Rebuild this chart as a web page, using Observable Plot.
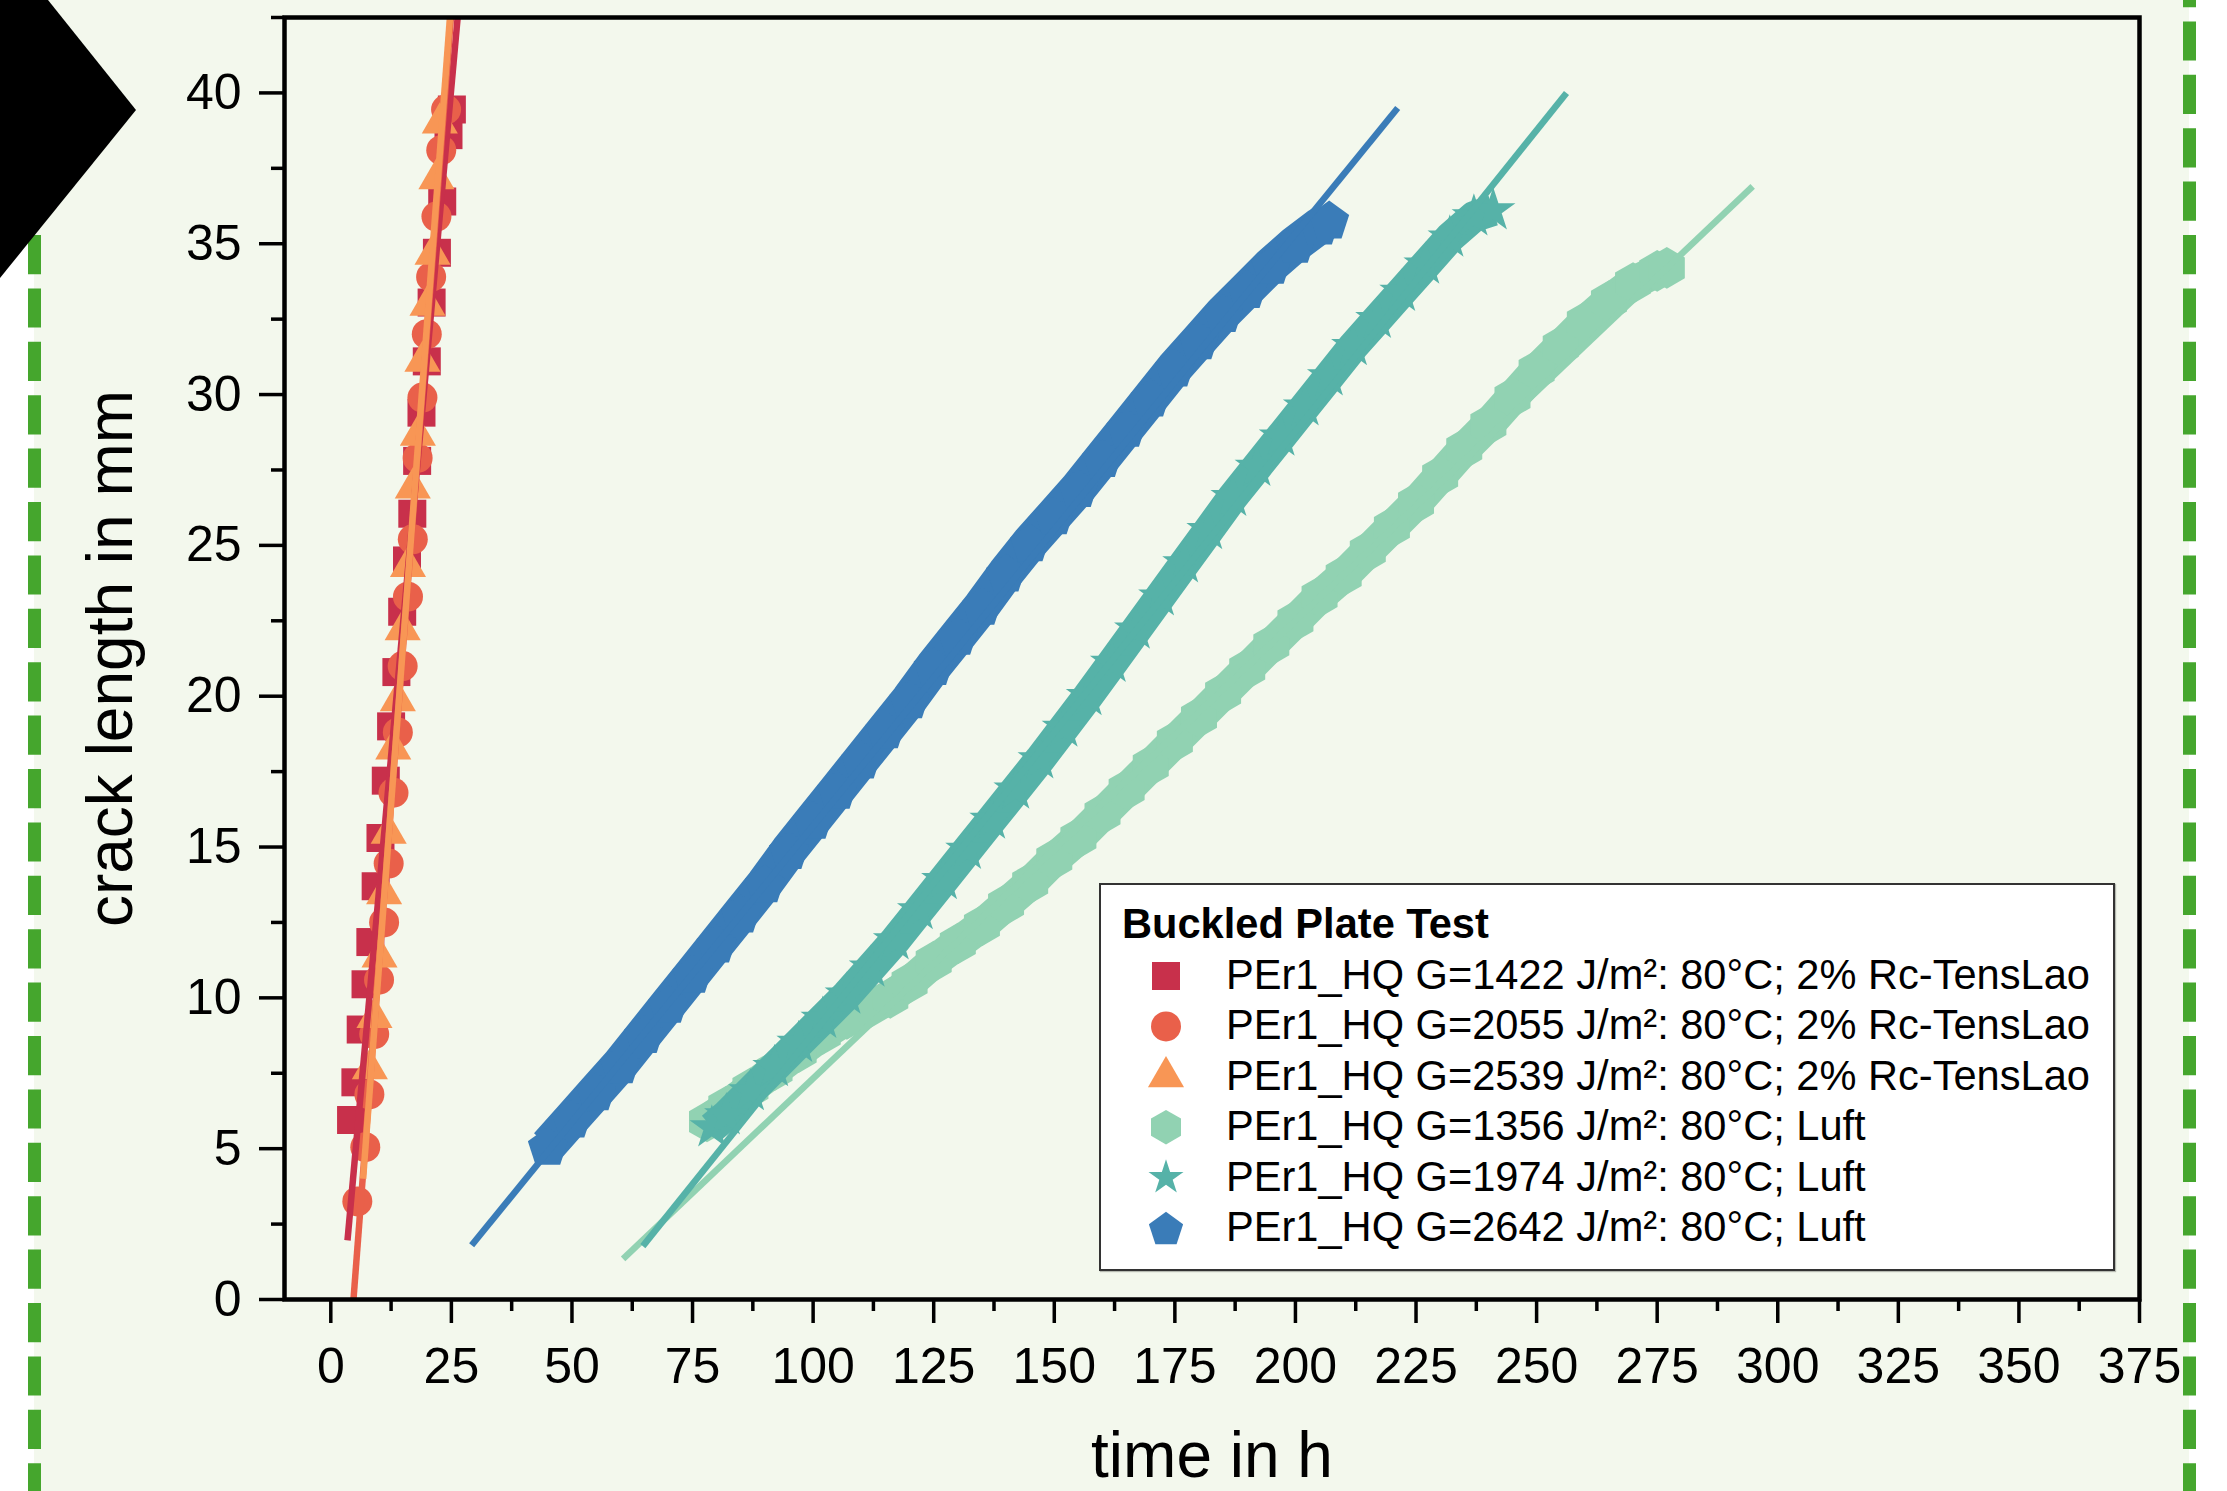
<!DOCTYPE html>
<html>
<head>
<meta charset="utf-8">
<script src="https://cdn.jsdelivr.net/npm/d3@7"></script>
<script src="https://cdn.jsdelivr.net/npm/@observablehq/plot@0.6"></script>
<style>
html, body { margin: 0; padding: 0; background: #fff; }
#page { position: relative; width: 2227px; height: 1491px; overflow: hidden; background: #fff; font-family: "Liberation Sans", Arial, sans-serif; }
#bg { position: absolute; left: 34px; top: -60px; width: 2155px; height: 1620px; background: #f3f8ed; }
#deco, #chart, #chev { position: absolute; left: 0; top: 0; }
#legend { position: absolute; left: 1099px; top: 883px; width: 1016px; height: 388px; box-sizing: border-box; border: 2px solid #333; background: #fff; box-shadow: 1px 1px 1px rgba(0,0,0,0.25); }
#legend svg { position: absolute; left: 0; top: 0; }
</style>
</head>
<body>
<div id="page">
  <div id="bg"></div>
  <svg id="deco" width="2227" height="1491">
    <line x1="34.5" y1="0" x2="34.5" y2="1491" stroke="#45a62d" stroke-width="13" stroke-dasharray="39.2 14.2" stroke-dashoffset="32"/>
    <line x1="2189.5" y1="0" x2="2189.5" y2="1491" stroke="#45a62d" stroke-width="13" stroke-dasharray="39.2 14.2" stroke-dashoffset="32"/>
  </svg>
  <div id="chart"></div>
  <div id="legend"></div>
  <svg id="chev" width="200" height="300"><polygon points="0,0 48,0 136,110 0,278" fill="#000"/></svg>
</div>
<script>
// ---------- data ----------
const seriesNames = [
  "PEr1_HQ G=1422 J/m²: 80°C; 2% Rc-TensLao",
  "PEr1_HQ G=2055 J/m²: 80°C; 2% Rc-TensLao",
  "PEr1_HQ G=2539 J/m²: 80°C; 2% Rc-TensLao",
  "PEr1_HQ G=1356 J/m²: 80°C; Luft",
  "PEr1_HQ G=1974 J/m²: 80°C; Luft",
  "PEr1_HQ G=2642 J/m²: 80°C; Luft"
];
const seriesColors = ["#c8304b", "#e9604a", "#f89655", "#91d2b2", "#56b2a8", "#3a7cb8"];
const legendTitle = "Buckled Plate Test";
const xLabel = "time in h";
const yLabel = "crack length in mm";
const xTicks = [0, 25, 50, 75, 100, 125, 150, 175, 200, 225, 250, 275, 300, 325, 350, 375];
const xMinorTicks = [12.5, 37.5, 62.5, 87.5, 112.5, 137.5, 162.5, 187.5, 212.5, 237.5, 262.5, 287.5, 312.5, 337.5, 362.5];
const yTicks = [0, 5, 10, 15, 20, 25, 30, 35, 40];
const yMinorTicks = [2.5, 7.5, 12.5, 17.5, 22.5, 27.5, 32.5, 37.5, 42.5];

// G=1422 (squares)
const t1422 = [4.2, 5.1, 6.2, 7.2, 8.2, 9.3, 10.3, 11.4, 12.5, 13.6, 14.8, 15.8, 16.9, 17.9, 18.8, 19.9, 20.9, 22.0, 23.1, 24.4, 25.1];
const a1422 = [5.95, 7.2, 8.95, 10.45, 11.85, 13.7, 15.3, 17.2, 19.0, 20.8, 22.8, 24.5, 26.05, 27.8, 29.4, 31.1, 33.05, 34.7, 36.4, 38.6, 39.45];
// G=2055 (circles)
const t2055 = [5.5, 7.15, 8.0, 9.0, 10.0, 11.05, 12.0, 13.0, 13.9, 14.9, 16.0, 17.0, 18.0, 19.0, 19.9, 20.8, 21.9, 22.9, 23.9];
const a2055 = [3.25, 5.05, 6.8, 8.8, 10.6, 12.5, 14.45, 16.8, 18.8, 21.0, 23.3, 25.2, 27.9, 29.9, 32.0, 33.9, 35.9, 38.1, 39.45];
// G=2539 (triangles)
const t2539 = [8.1, 9.05, 10.1, 11.05, 12.0, 12.95, 13.9, 14.9, 16.0, 17.0, 18.05, 19.0, 20.05, 21.1, 21.9, 22.6];
const a2539 = [7.65, 9.35, 11.35, 13.45, 15.45, 18.25, 19.85, 22.2, 24.3, 26.9, 28.65, 31.1, 32.96, 34.65, 37.15, 39.0];
// G=1356 (hexagons)
const t1356 = [78, 82, 87, 92, 97, 102, 107, 112, 116, 120, 125, 130, 135, 140, 145, 150, 155, 160, 165, 170, 175, 180, 185, 190, 195, 200, 205, 210, 215, 220, 225, 230, 235, 240, 245, 250, 255, 260, 265, 270, 275, 277];
const a1356 = [5.9, 6.4, 7.0, 7.6, 8.2, 8.8, 9.3, 9.7, 10.0, 10.5, 11.2, 11.8, 12.4, 13.1, 13.8, 14.6, 15.3, 16.1, 16.9, 17.7, 18.5, 19.3, 20.1, 20.9, 21.7, 22.5, 23.3, 24.0, 24.8, 25.6, 26.4, 27.3, 28.2, 29.0, 29.9, 30.8, 31.6, 32.4, 33.1, 33.7, 34.1, 34.2];
// G=1974 (stars)
const t1974 = [79, 82, 87, 92, 97, 102, 107, 112, 117, 122, 127, 132, 137, 142, 147, 152, 157, 162, 167, 172, 177, 182, 187, 192, 197, 202, 207, 212, 217, 222, 227, 232, 237, 241];
const a1974 = [5.7, 6.1, 6.9, 7.7, 8.5, 9.3, 10.1, 11.0, 11.9, 12.9, 13.9, 14.9, 15.9, 16.9, 17.9, 18.95, 20.0, 21.1, 22.2, 23.3, 24.4, 25.5, 26.6, 27.6, 28.6, 29.6, 30.6, 31.6, 32.5, 33.4, 34.3, 35.2, 35.9, 36.1];
// G=2642 (pentagons)
const t2642 = [45, 50, 55, 60, 65, 70, 75, 80, 85, 90, 95, 100, 105, 110, 115, 120, 125, 130, 135, 140, 145, 150, 155, 160, 165, 170, 175, 180, 185, 190, 195, 200, 205, 207];
const a2642 = [5.1, 6.0, 6.9, 7.8, 8.8, 9.8, 10.8, 11.8, 12.8, 13.8, 14.9, 15.9, 16.9, 17.9, 18.9, 19.9, 21.0, 22.0, 23.0, 24.1, 25.1, 26.0, 26.9, 27.9, 28.9, 29.9, 30.9, 31.8, 32.7, 33.5, 34.3, 35.0, 35.6, 35.8];

// linear fit segments (start, end)
const fitT1422 = [3.46, 26.3],  fitA1422 = [1.96, 42.5];
const fitT2055 = [4.7, 24.9],   fitA2055 = [0.0, 42.5];
const fitT2539 = [6.7, 24.7],   fitA2539 = [4.0, 42.5];
const fitT1356 = [60.6, 294.8], fitA1356 = [1.35, 36.9];
const fitT1974 = [64.7, 256.2], fitA1974 = [1.77, 40.0];
const fitT2642 = [29.2, 221.2], fitA2642 = [1.8, 39.5];

// ---------- symbols ----------
const symbolHex = {draw(ctx, size) {
  const rx = Math.sqrt(size / Math.PI), ry = rx * 2 / Math.sqrt(3), hy = ry / 2;
  ctx.moveTo(0, ry); ctx.lineTo(rx, hy); ctx.lineTo(rx, -hy); ctx.lineTo(0, -ry); ctx.lineTo(-rx, -hy); ctx.lineTo(-rx, hy); ctx.closePath();
}};
const symbolPent = {draw(ctx, size) {
  const R = Math.sqrt(size / Math.PI);
  for (let k = 0; k < 5; k++) {
    const ang = -Math.PI / 2 + k * 2 * Math.PI / 5;
    const px = R * Math.cos(ang), py = R * Math.sin(ang) + R * 0.095;
    if (k) ctx.lineTo(px, py); else ctx.moveTo(px, py);
  }
  ctx.closePath();
}};
const symbols = [d3.symbolSquare, d3.symbolCircle, d3.symbolTriangle, symbolHex, d3.symbolStar, symbolPent];
const symbolR = [15.8, 15, 13.4, 15, 11, 18];
const dotR = [15.8, 15, 13.4, 18, 14, 21];
const bandWidth = [0, 0, 0, 33, 31, 37];

const series = [
  {t: t1422, a: a1422, ft: fitT1422, fa: fitA1422},
  {t: t2055, a: a2055, ft: fitT2055, fa: fitA2055},
  {t: t2539, a: a2539, ft: fitT2539, fa: fitA2539},
  {t: t1356, a: a1356, ft: fitT1356, fa: fitA1356},
  {t: t1974, a: a1974, ft: fitT1974, fa: fitA1974},
  {t: t2642, a: a2642, ft: fitT2642, fa: fitA2642}
];

const font = "Liberation Sans, Arial, sans-serif";
const marks = [];
series.forEach((s, i) => {
  const rows = s.t.map((t, k) => ({t, a: s.a[k]}));
  if (bandWidth[i]) marks.push(Plot.line(rows, {x: "t", y: "a", stroke: seriesColors[i], strokeWidth: bandWidth[i], strokeLinecap: "butt", clip: true}));
  marks.push(Plot.dot(rows, {x: "t", y: "a", symbol: symbols[i], r: dotR[i], fill: seriesColors[i], stroke: "none", clip: true}));
});
series.forEach((s, i) => {
  const rows = s.ft.map((t, k) => ({t, a: s.fa[k]}));
  marks.push(Plot.line(rows, {x: "t", y: "a", stroke: seriesColors[i], strokeWidth: 6.5, strokeLinecap: "butt", clip: true}));
});

const chart = Plot.plot({
  width: 2227, height: 1491,
  marginLeft: 284, marginRight: 88, marginTop: 17, marginBottom: 192,
  style: {background: "none", fontFamily: font, overflow: "visible"},
  x: {domain: [-9.6, 375]},
  y: {domain: [0, 42.5]},
  marks: [
    ...marks,
    Plot.frame({stroke: "#000", strokeWidth: 4.5}),
    Plot.axisX({ticks: xTicks, tickSize: 24, tickPadding: 24, fontSize: 50, strokeWidth: 3.5, stroke: "#000", fill: "#000", label: null, tickFormat: d => String(d)}),
    Plot.axisX({ticks: xMinorTicks, tickSize: 12, strokeWidth: 3.5, stroke: "#000", label: null, tickFormat: () => ""}),
    Plot.axisY({ticks: yTicks, tickSize: 25, tickPadding: 18, fontSize: 50, strokeWidth: 3.5, stroke: "#000", fill: "#000", label: null, tickFormat: d => String(d)}),
    Plot.axisY({ticks: yMinorTicks, tickSize: 13, strokeWidth: 3.5, stroke: "#000", label: null, tickFormat: () => ""}),
    Plot.text([yLabel], {text: d => d, frameAnchor: "left", dx: -173, rotate: -90, textAnchor: "middle", lineAnchor: "middle", fontSize: 64, fill: "#000"}),
    Plot.text([xLabel], {text: d => d, frameAnchor: "bottom", dy: 157, textAnchor: "middle", lineAnchor: "middle", fontSize: 64, fill: "#000"})
  ]
});
document.getElementById("chart").appendChild(chart);

// ---------- legend ----------
const lg = d3.select("#legend").append("svg").attr("width", 1012).attr("height", 384)
  .style("font-family", font);
lg.append("text").attr("x", 21).attr("y", 53).attr("font-size", 41.6).attr("font-weight", "bold").attr("fill", "#000").text(legendTitle);
seriesNames.forEach((name, i) => {
  const cy = 91 + 50.4 * i;
  lg.append("path").attr("transform", `translate(65,${cy})`)
    .attr("d", d3.symbol().type(symbols[i]).size(Math.PI * symbolR[i] * symbolR[i])())
    .attr("fill", seriesColors[i]);
  lg.append("text").attr("x", 125).attr("y", cy + 13).attr("font-size", 41.6).attr("fill", "#000").text(name);
});
</script>
</body>
</html>
